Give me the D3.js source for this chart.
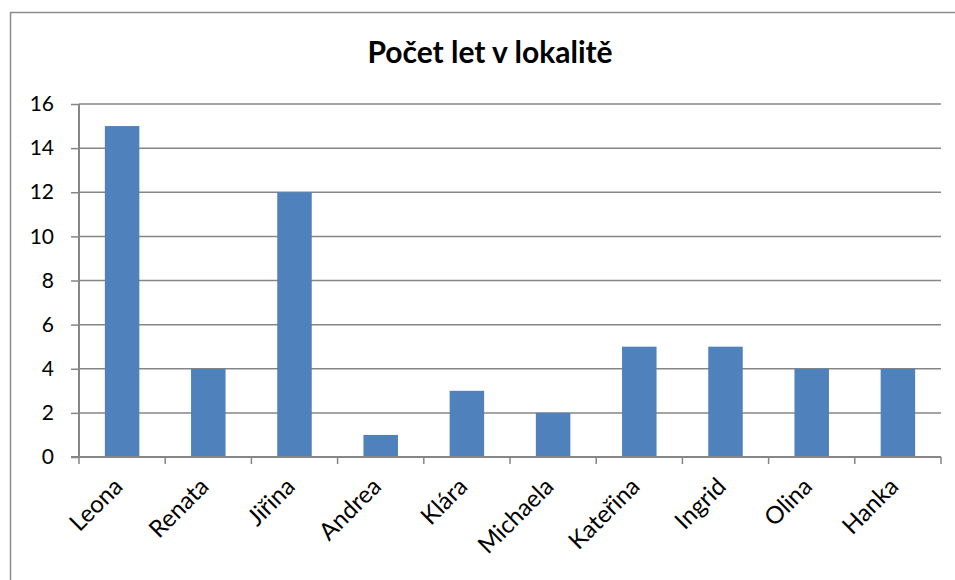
<!DOCTYPE html>
<html>
<head>
<meta charset="utf-8">
<script src="https://cdn.jsdelivr.net/npm/d3@7"></script>
<style>
  body { margin: 0; background: #fff; }
  svg { display: block; font-family: Lato, "Open Sans", sans-serif; }
</style>
</head>
<body>
<svg id="chart" width="955" height="580"></svg>
<script>
// data
var names = ["Leona", "Renata", "Jiřina", "Andrea", "Klára", "Michaela", "Kateřina", "Ingrid", "Olina", "Hanka"];
var years = [15, 4, 12, 1, 3, 2, 5, 5, 4, 4];
var yTicks = [0, 2, 4, 6, 8, 10, 12, 14, 16];
var title = "Počet let v lokalitě";

var margin = {left: 79, right: 14, top: 104, bottom: 123};
var width = 955, height = 580;

var svg = d3.select("#chart");

// outer chart frame
svg.append("rect")
    .attr("x", 10.5).attr("y", 12.5)
    .attr("width", 960).attr("height", 600)
    .attr("fill", "none")
    .attr("stroke", "#8c8c8c")
    .attr("stroke-width", 1.5);

svg.append("text")
    .attr("x", 490).attr("y", 63)
    .attr("text-anchor", "middle")
    .attr("font-weight", "bold")
    .attr("font-size", 30)
    .text(title);

var x = d3.scaleBand()
    .domain(names)
    .range([margin.left, width - margin.right])
    .paddingInner(0.6)
    .paddingOuter(0.3);

var y = d3.scaleLinear()
    .domain([0, 16])
    .range([height - margin.bottom, margin.top]);

// y axis ticks and labels
var yAxis = svg.append("g")
    .attr("transform", `translate(${margin.left},0)`)
    .call(d3.axisLeft(y).tickValues(yTicks).tickSize(8).tickPadding(17).tickFormat(d3.format("d")));
yAxis.select(".domain").remove();
yAxis.selectAll(".tick line").attr("stroke", "#868686").attr("stroke-width", 1.5);
yAxis.selectAll(".tick text").attr("font-size", 21).attr("fill", "#000")
    .attr("font-family", "Lato, sans-serif");

// gridlines
svg.append("g")
    .selectAll("line")
    .data(yTicks.filter(d => d > 0))
    .join("line")
    .attr("x1", margin.left).attr("x2", width - margin.right)
    .attr("y1", d => y(d)).attr("y2", d => y(d))
    .attr("stroke", "#868686")
    .attr("stroke-width", 1.5);

svg.append("g")
    .selectAll("rect")
    .data(years)
    .join("rect")
    .attr("x", (d, i) => x(names[i]))
    .attr("y", d => y(d))
    .attr("width", x.bandwidth())
    .attr("height", d => y(0) - y(d))
    .attr("fill", "#4f81bd");

// y axis line
svg.append("line")
    .attr("x1", margin.left).attr("x2", margin.left)
    .attr("y1", y(16)).attr("y2", y(0))
    .attr("stroke", "#868686").attr("stroke-width", 2);

// x axis with ticks at category boundaries
var step = x.step();
var bounds = d3.range(names.length + 1).map(i => margin.left + i * step);
svg.append("line")
    .attr("x1", margin.left - 8).attr("x2", width - margin.right)
    .attr("y1", y(0)).attr("y2", y(0))
    .attr("stroke", "#868686").attr("stroke-width", 2);
svg.append("g")
    .selectAll("line")
    .data(bounds)
    .join("line")
    .attr("x1", d => d).attr("x2", d => d)
    .attr("y1", y(0)).attr("y2", y(0) + 7)
    .attr("stroke", "#868686").attr("stroke-width", 1.5);

svg.append("g")
    .selectAll("text")
    .data(names)
    .join("text")
    .attr("transform", d => `translate(${x(d) + x.bandwidth() / 2 + 2},${y(0) + 31}) rotate(-45)`)
    .attr("text-anchor", "end")
    .attr("font-size", 24)
    .text(d => d);
</script>
</body>
</html>
